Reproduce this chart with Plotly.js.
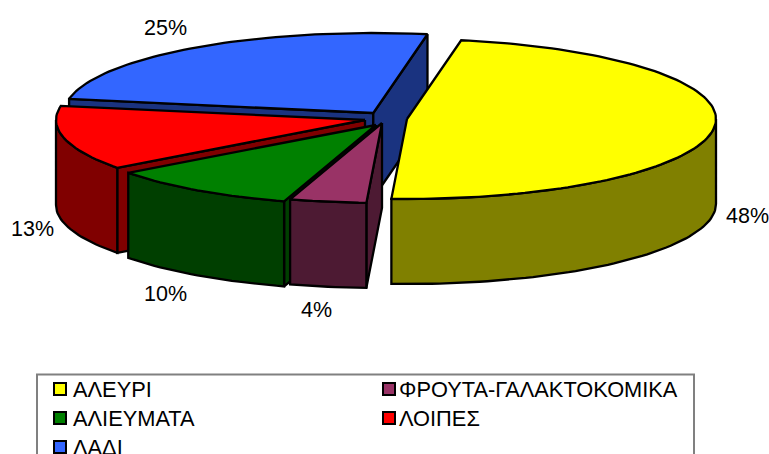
<!DOCTYPE html>
<html><head><meta charset="utf-8">
<script src="https://cdn.plot.ly/plotly-3.0.1.min.js"></script>
<style>html,body{margin:0;padding:0;background:#fff;overflow:hidden}</style>
</head><body><div id="chart" style="width:769px;height:454px"></div>
<script>
// Data
const categories = ["ΑΛΕΥΡΙ","ΦΡΟΥΤΑ-ΓΑΛΑΚΤΟΚΟΜΙΚΑ","ΑΛΙΕΥΜΑΤΑ","ΛΟΙΠΕΣ","ΛΑΔΙ"];
const shares = [48,4,10,13,25];
const topColors = ["#FFFF00","#993366","#008000","#FF0000","#3366FF"];
const wallColors = ["#808000","#4D1A33","#003F00","#800000","#1A3380"];

// Projection of the exploded 3-D pie onto the page
const RX = 309, RY = 80, DEPTH = 85, START = -79.9;
const centres = [[407,119],[382,123],[376,125],[365,120],[373.3,113]];
const labelPos = [[747,216],[316,310],[165,294],[32,229],[165,28]];
const rowY = [389,418,447], colX = [60,389], textX = [71,397];

const rad = d => d*Math.PI/180;
const pt = (c,t,dz=0) => [c[0]+RX*Math.cos(rad(t)), c[1]+RY*Math.sin(rad(t))+dz];
function arc(c,a,b,dz=0){const n=Math.max(2,Math.ceil(Math.abs(b-a)/1.5));const o=[];
  for(let i=0;i<=n;i++)o.push(pt(c,a+(b-a)*i/n,dz));return o;}
function poly(points,fill,name){const xs=points.map(p=>p[0]),ys=points.map(p=>p[1]);
  xs.push(xs[0]);ys.push(ys[0]);
  return {type:'scatter',mode:'lines',x:xs,y:ys,fill:'toself',fillcolor:fill,name:name,
    line:{color:'#000',width:2.3,shape:'linear'},showlegend:false,hoverinfo:'skip',cliponaxis:false};}

let acc=START; const spans=shares.map(v=>{const s=[acc,acc+v*3.6];acc+=v*3.6;return s;});
const traces=[];
[4,3,2,1,0].forEach(i=>{
  const c=centres[i],[t0,t1]=spans[i],low=[c[0],c[1]+DEPTH];
  if(Math.cos(rad(t0))<0) traces.push(poly([c,pt(c,t0),pt(c,t0,DEPTH),low],wallColors[i],categories[i]));
  if(Math.cos(rad(t1))>0) traces.push(poly([c,pt(c,t1),pt(c,t1,DEPTH),low],wallColors[i],categories[i]));
  const a=Math.max(t0,0),b=Math.min(t1,180);
  if(b>a) traces.push(poly(arc(c,a,b).concat(arc(c,b,a,DEPTH)),wallColors[i],categories[i]));
  traces.push(poly([c].concat(arc(c,t0,t1)),topColors[i],categories[i]));
});
// legend swatches
const cell=i=>[colX[i%2],rowY[Math.floor(i/2)]];
traces.push({type:'scatter',mode:'markers',x:categories.map((_,i)=>cell(i)[0]),y:categories.map((_,i)=>cell(i)[1]),
  marker:{symbol:'square',size:12,color:topColors,line:{color:'#000',width:2}},showlegend:false,hoverinfo:'skip',cliponaxis:false});

const font={family:'"Liberation Sans",Arial,sans-serif',size:21.5,color:'#000'};
const legendFont={family:'"Liberation Sans",Arial,sans-serif',size:21.8,color:'#000'};
const annotations=shares.map((v,i)=>({x:labelPos[i][0],y:labelPos[i][1],xref:'x',yref:'y',text:v+'%',showarrow:false,font,xanchor:'center',yanchor:'middle'}))
 .concat(categories.map((n,i)=>({x:textX[i%2],y:rowY[Math.floor(i/2)],xref:'x',yref:'y',text:n,showarrow:false,font:legendFont,xanchor:'left',yanchor:'middle'})));
Plotly.newPlot('chart',traces,{
  width:769,height:454,margin:{l:0,r:0,t:0,b:0},paper_bgcolor:'#fff',plot_bgcolor:'#fff',showlegend:false,
  xaxis:{range:[0,769],visible:false,fixedrange:true},
  yaxis:{range:[454,0],visible:false,fixedrange:true},
  shapes:[{type:'rect',xref:'x',yref:'y',x0:37,x1:694,y0:374.5,y1:470,line:{color:'#808080',width:2},fillcolor:'rgba(0,0,0,0)',layer:'below'}],
  annotations
},{displayModeBar:false,staticPlot:true});
</script></body></html>
